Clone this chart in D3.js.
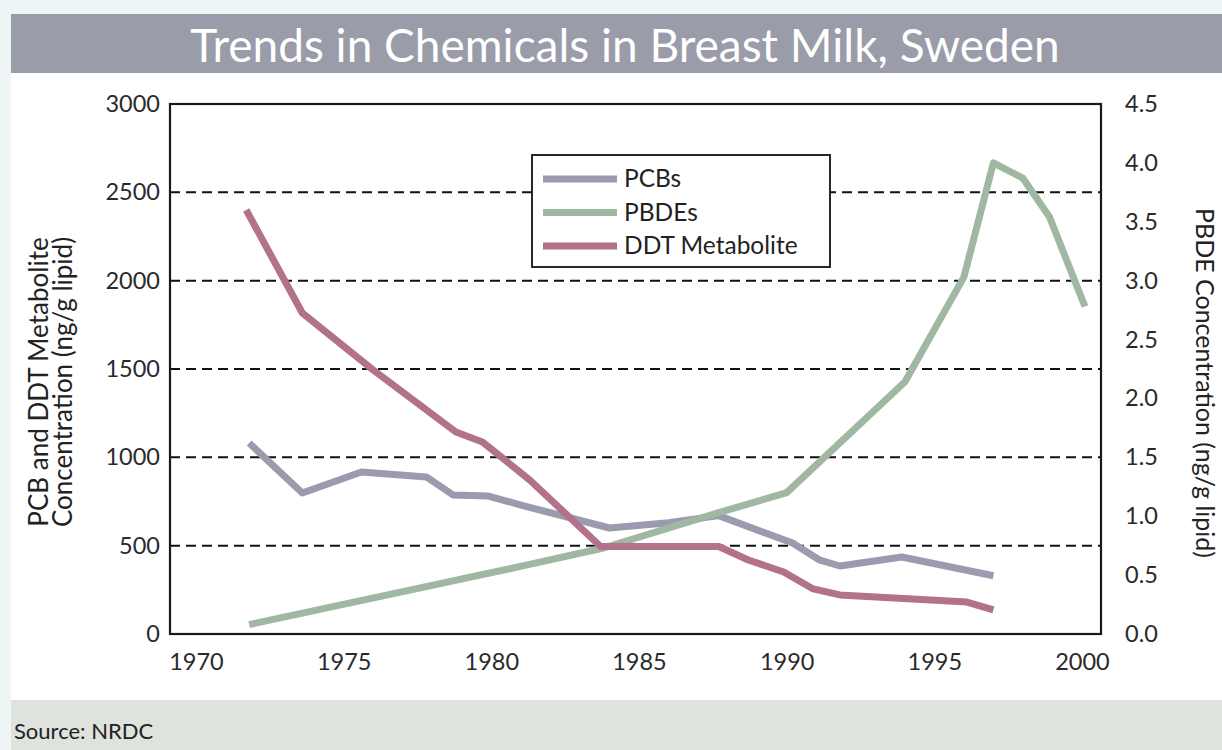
<!DOCTYPE html>
<html><head><meta charset="utf-8">
<script src="https://cdn.jsdelivr.net/npm/d3@7"></script>
<style>
html,body{margin:0;padding:0;background:#eef5f5;}
svg{display:block;font-family:Lato, "Open Sans", sans-serif;}
</style></head>
<body>
<svg id="chart" width="1222" height="750"></svg>
<script>
// ---- data ----
const title = "Trends in Chemicals in Breast Milk, Sweden";
const source = "Source: NRDC";
const seriesNames = ["PCBs", "PBDEs", "DDT Metabolite"];
const xTicks = [1970, 1975, 1980, 1985, 1990, 1995, 2000];
const leftTicks = [0, 500, 1000, 1500, 2000, 2500, 3000];
const rightTicks = [0, 0.5, 1, 1.5, 2, 2.5, 3, 3.5, 4, 4.5];
const gridValues = [500, 1000, 1500, 2000, 2500];

const pcbYears = [1971.8, 1973.6, 1975.6, 1977.8, 1978.7, 1979.9, 1981.0, 1984.0, 1986.0, 1987.7, 1990.2, 1991.1, 1991.8, 1993.9, 1997.0];
const pcbValues = [1081, 798, 917, 889, 787, 781, 730, 600, 630, 670, 515, 420, 385, 436, 330];

const pbdeYears = [1971.8, 1975.7, 1981.1, 1983.8, 1987.7, 1990.0, 1994.0, 1996.0, 1997.0, 1998.0, 1998.9, 2000.1];
const pbdeValues = [0.08, 0.29, 0.58, 0.73, 1.03, 1.20, 2.14, 3.03, 4.0, 3.87, 3.54, 2.78];

const ddtYears = [1971.7, 1973.6, 1976.0, 1978.8, 1979.7, 1981.3, 1983.7, 1987.7, 1988.7, 1989.9, 1990.9, 1991.8, 1996.1, 1997.0];
const ddtValues = [2400, 1817, 1494, 1143, 1087, 872, 495, 495, 419, 351, 255, 221, 181, 136];

// ---- layout ----
const svg = d3.select("#chart");
const W = 1222, H = 750;
const plot = {left: 170, right: 1101, top: 104, bottom: 634};
const colors = {PCBs: "#9b9bb0", PBDEs: "#a0b7a2", "DDT Metabolite": "#b2728b"};

svg.append("rect").attr("x", 0).attr("y", 0).attr("width", W).attr("height", H).attr("fill", "#eef5f5");
svg.append("rect").attr("x", 11).attr("y", 14).attr("width", W - 11).attr("height", H - 14).attr("fill", "#ffffff");
svg.append("rect").attr("x", 11).attr("y", 14).attr("width", W - 11).attr("height", 59).attr("fill", "#9a9ca9");
svg.append("rect").attr("x", 11).attr("y", 700).attr("width", W - 11).attr("height", 50).attr("fill", "#dee3de");

svg.append("text").attr("x", 625).attr("y", 62).attr("text-anchor", "middle")
  .attr("fill", "#ffffff").attr("font-size", 46).attr("font-weight", 400).text(title);
svg.append("text").attr("x", 14).attr("y", 739).attr("fill", "#222").attr("font-size", 22).text(source);

const x = d3.scaleLinear().domain([1970, 2000]).range([196, 1082]);
const yL = d3.scaleLinear().domain([0, 3000]).range([plot.bottom, plot.top]);
const yR = d3.scaleLinear().domain([0, 4.5]).range([plot.bottom, plot.top]);

// gridlines
svg.append("g").selectAll("line").data(gridValues).join("line")
  .attr("x1", plot.left).attr("x2", plot.right)
  .attr("y1", d => yL(d)).attr("y2", d => yL(d))
  .attr("stroke", "#111").attr("stroke-width", 2).attr("stroke-dasharray", "10,6");

// axes
const tickFont = g => g.selectAll("text").attr("font-size", 23.5).attr("fill", "#2a2a2a")
  .attr("font-family", "Lato, 'Open Sans', sans-serif");
const gl = svg.append("g").attr("transform", `translate(${plot.left},0)`)
  .call(d3.axisLeft(yL).tickValues(leftTicks).tickSize(0).tickPadding(10).tickFormat(d3.format("d")));
gl.select(".domain").remove(); tickFont(gl);
const gr = svg.append("g").attr("transform", `translate(${plot.right},0)`)
  .call(d3.axisRight(yR).tickValues(rightTicks).tickSize(0).tickPadding(24).tickFormat(d3.format(".1f")));
gr.select(".domain").remove(); tickFont(gr);
const gb = svg.append("g").attr("transform", `translate(0,${plot.bottom})`)
  .call(d3.axisBottom(x).tickValues(xTicks).tickSize(0).tickPadding(19).tickFormat(d3.format("d")));
gb.select(".domain").remove(); tickFont(gb);

// axis titles
svg.append("text").attr("transform", "translate(48,382) rotate(-90)").attr("text-anchor", "middle")
  .attr("font-size", 26).attr("fill", "#222").text("PCB and DDT Metabolite");
svg.append("text").attr("transform", "translate(72,382) rotate(-90)").attr("text-anchor", "middle")
  .attr("font-size", 26).attr("fill", "#222").text("Concentration (ng/g lipid)");
svg.append("text").attr("transform", "translate(1196,383) rotate(90)").attr("text-anchor", "middle")
  .attr("font-size", 25).attr("fill", "#222").text("PBDE Concentration (ng/g lipid)");

// lines
const line = (ys) => d3.line().x(d => x(d[0])).y(d => ys(d[1]));
const zip = (a, b) => a.map((v, i) => [v, b[i]]);
const series = [
  {name: "PCBs", data: zip(pcbYears, pcbValues), scale: yL},
  {name: "PBDEs", data: zip(pbdeYears, pbdeValues), scale: yR},
  {name: "DDT Metabolite", data: zip(ddtYears, ddtValues), scale: yL}
];
svg.append("g").selectAll("path").data(series).join("path")
  .attr("d", s => line(s.scale)(s.data))
  .attr("fill", "none").attr("stroke", s => colors[s.name])
  .attr("stroke-width", 7).attr("stroke-linejoin", "round");

// frame
svg.append("rect").attr("x", plot.left).attr("y", plot.top)
  .attr("width", plot.right - plot.left).attr("height", plot.bottom - plot.top)
  .attr("fill", "none").attr("stroke", "#1a1a1a").attr("stroke-width", 2.2);

// legend
const lg = svg.append("g");
lg.append("rect").attr("x", 532).attr("y", 155).attr("width", 298).attr("height", 112)
  .attr("fill", "#fff").attr("stroke", "#111").attr("stroke-width", 1.8);
const rows = lg.selectAll("g").data(seriesNames).join("g")
  .attr("transform", (d, i) => `translate(543,${179 + i * 33.5})`);
rows.append("line").attr("x1", 0).attr("x2", 74).attr("y1", 0).attr("y2", 0)
  .attr("stroke", d => colors[d]).attr("stroke-width", 7);
rows.append("text").attr("x", 81).attr("y", 8).attr("font-size", 24.5).attr("fill", "#222").text(d => d);
</script>
</body></html>
